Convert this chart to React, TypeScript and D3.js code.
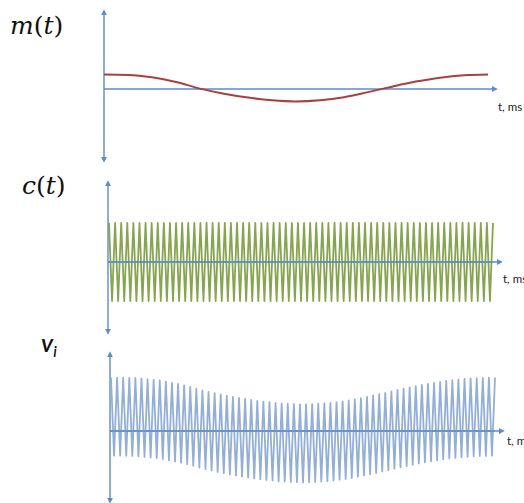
import React from "react";
import * as d3 from "d3";

// ---- data ----
// message signal m(t), sampled at 17 evenly spaced instants over the shown time span (0..1 normalised)
const mTimes = [0, 0.0625, 0.125, 0.1875, 0.25, 0.3125, 0.375, 0.4375, 0.5, 0.5625, 0.625, 0.6875, 0.75, 0.8125, 0.875, 0.9375, 1];
const mValues = [0.37, 0.36, 0.30, 0.18, 0.01, -0.12, -0.22, -0.29, -0.32, -0.29, -0.21, -0.08, 0.06, 0.19, 0.29, 0.35, 0.37];
// carrier c(t): number of full cycles over the span, amplitude 1
const carrierCycles = 63;
const carrierAmp = 1;
const axisLabel = "t, ms";
const panelLabels = ["m(t)", "c(t)", "v_i"];

// ---- layout ----
const W = 524;
const H = 503;
const UNIT = 39; // px per signal unit
const AXIS = "#5b8ccc";
const panels = [
  { ax: 104, yTop: 10, yBot: 162, axisY: 89, xEnd: 497, x0: 104, x1: 488, labelX: 10, labelY: 34, tX: 498, tY: 111 },
  { ax: 108, yTop: 181, yBot: 334, axisY: 262, xEnd: 502, x0: 109, x1: 493, labelX: 22, labelY: 194, tX: 503, tY: 283 },
  { ax: 110, yTop: 352, yBot: 503, axisY: 431, xEnd: 504, x0: 111, x1: 495, labelX: 41, labelY: 352, tX: 507, tY: 445 },
];

const mOf = d3.scaleLinear().domain(mTimes).range(mValues);
const carrierTimes = d3.range(carrierCycles * 2 + 1).map((k) => k / (carrierCycles * 2));
const carrierVals = carrierTimes.map((_, k) => (k % 2 === 0 ? carrierAmp : -carrierAmp));
const viVals = carrierTimes.map((t, k) => carrierVals[k] + mOf(t));

function Axes({ p }: { p: any }) {
  return (
    <g>
      <line x1={p.ax} x2={p.ax} y1={p.yBot - 4} y2={p.yTop + 4} stroke={AXIS} strokeWidth={1.4}
        markerStart={`url(#arr)`} markerEnd={`url(#arr)`} />
      <line x1={p.ax} x2={p.xEnd - 4} y1={p.axisY} y2={p.axisY} stroke={AXIS} strokeWidth={1.4} markerEnd={`url(#arr)`} />
      <text x={p.tX} y={p.tY} fontFamily="Lato, 'Open Sans', sans-serif" fontSize={11.5} fill="#222">{axisLabel}</text>
    </g>
  );
}

export default function App() {
  const xs = panels.map((p) => d3.scaleLinear().domain([0, 1]).range([p.x0, p.x1]));
  const ys = panels.map((p) => d3.scaleLinear().domain([-1, 1]).range([p.axisY + UNIT, p.axisY - UNIT]));

  const mLine = d3.line<number>().x((_, i) => xs[0](mTimes[i])).y((v) => ys[0](v)).curve(d3.curveMonotoneX);
  const cLine = d3.line<number>().x((_, i) => xs[1](carrierTimes[i])).y((v) => ys[1](v));
  const vLine = d3.line<number>().x((_, i) => xs[2](carrierTimes[i])).y((v) => ys[2](v));

  return (
    <svg width={W} height={H} style={{ position: "absolute", left: 0, top: 0, background: "#fff" }}>
      <defs>
        <marker id="arr" viewBox="0 0 10 10" refX="2" refY="5" markerWidth="6" markerHeight="6" orient="auto-start-reverse" markerUnits="userSpaceOnUse">
          <path d="M0,0 L10,5 L0,10 z" fill={AXIS} />
        </marker>
      </defs>
      {panels.map((p, i) => (
        <Axes key={i} p={p} />
      ))}
      <path d={mLine(mValues) || ""} fill="none" stroke="#a9403d" strokeWidth={2} />
      <path d={cLine(carrierVals) || ""} fill="none" stroke="#7a9a3e" strokeWidth={1.8} strokeLinejoin="round" opacity={0.9} />
      <path d={vLine(viVals) || ""} fill="none" stroke="#93afd8" strokeWidth={1.8} strokeLinejoin="round" />
      {panels.slice(1).map((p, i) => (
        <line key={i} x1={p.ax} x2={p.x1} y1={p.axisY} y2={p.axisY} stroke={AXIS} strokeWidth={1.4} />
      ))}
      <text x={panels[0].labelX} y={panels[0].labelY} fontFamily="'DejaVu Serif', serif" fontSize={25} fill="#111">
        <tspan fontStyle="italic">m</tspan><tspan>(</tspan><tspan fontStyle="italic">t</tspan><tspan>)</tspan>
      </text>
      <text x={panels[1].labelX} y={panels[1].labelY} fontFamily="'DejaVu Serif', serif" fontSize={25} fill="#111">
        <tspan fontStyle="italic">c</tspan><tspan>(</tspan><tspan fontStyle="italic">t</tspan><tspan>)</tspan>
      </text>
      <text x={panels[2].labelX} y={panels[2].labelY} fontFamily="Lato, 'Open Sans', sans-serif" fontStyle="italic" fontWeight={600} fontSize={25} fill="#111">
        <tspan>v</tspan><tspan fontSize={15} dy={5}>i</tspan>
      </text>
    </svg>
  );
}
